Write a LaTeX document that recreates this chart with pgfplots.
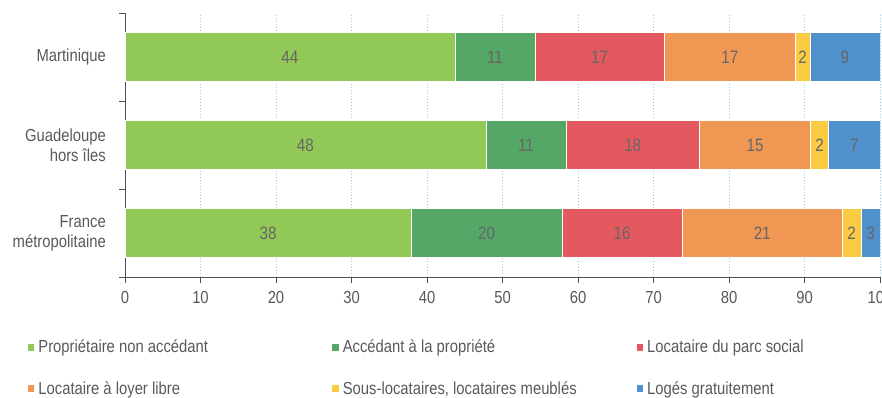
\documentclass[border=0pt]{standalone}
\usepackage{pgfplots}
\pgfplotsset{compat=1.18}
\usepackage{fontspec}
\setmainfont{Liberation Sans}[FakeStretch=0.85]
\definecolor{cA}{RGB}{146,200,86}
\definecolor{cB}{RGB}{84,167,102}
\definecolor{cC}{RGB}{228,89,96}
\definecolor{cD}{RGB}{240,152,83}
\definecolor{cE}{RGB}{249,204,68}
\definecolor{cF}{RGB}{80,145,205}
\definecolor{txt}{RGB}{89,89,89}
\definecolor{num}{RGB}{102,102,102}
\definecolor{gridc}{RGB}{150,205,240}
\definecolor{axc}{RGB}{80,80,80}
\begin{document}
\begin{tikzpicture}
\pgfplotsset{
  base/.style={
    scale only axis, width=755bp, height=264bp,
    at={(125bp,121bp)}, anchor=south west,
    xmin=0, xmax=100, ymin=-0.5, ymax=2.5,
  },
  legsq/.style={legend image code/.code={\fill[##1] (0bp,-3.75bp) rectangle (7.5bp,3.75bp);}},
}
\begin{axis}[base,
  xbar stacked, bar width=49bp,
  axis x line*=bottom, axis y line*=left,
  axis line style={axc, line width=0.8bp},
  every tick/.style={axc, line width=0.8bp},
  tick align=outside,
  xtick={0,10,...,100},
  major tick length=6bp,
  ytick={-0.5,0.5,1.5,2.5},
  yticklabels={},
  extra y ticks={0,1,2},
  extra y tick labels={{France\\métropolitaine},{Guadeloupe\\hors îles},{Martinique}},
  extra y tick style={major tick length=0bp,
    yticklabel style={align=right, inner sep=0pt, xshift=-19bp, text=txt, font=\fontsize{17.5}{20}\selectfont}},
  xticklabel style={inner sep=0pt, yshift=-8bp, text=txt, font=\fontsize{17.5}{20}\selectfont},
  /pgf/number format/assume math mode=true,
  xmajorgrids,
  major x grid style={gridc, line width=0.8bp, dash pattern=on 1.5bp off 1.5bp},
  legend columns=3,
  legend style={draw=none, fill=none, inner sep=0pt, outer sep=0pt,
    at={(axis description cs:-0.1298,-0.238)}, anchor=north west,
    row sep=27bp, font=\fontsize{17.5}{20}\selectfont, text=txt,
    /tikz/every odd column/.append style={column sep=3.5bp},
    nodes={inner sep=0pt}},
  legend cell align=left,
]
\addplot[fill=cA, draw=white, line width=0.4bp, legsq] coordinates {(37.9,0) (47.8,1) (43.7,2)};
\addplot[fill=cB, draw=white, line width=0.4bp, legsq] coordinates {(20.0,0) (10.6,1) (10.6,2)};
\addplot[fill=cC, draw=white, line width=0.4bp, legsq] coordinates {(15.9,0) (17.7,1) (17.1,2)};
\addplot[fill=cD, draw=white, line width=0.4bp, legsq] coordinates {(21.2,0) (14.7,1) (17.4,2)};
\addplot[fill=cE, draw=white, line width=0.4bp, legsq] coordinates {(2.5,0) (2.4,1) (1.9,2)};
\addplot[fill=cF, draw=white, line width=0.4bp, legsq] coordinates {(2.5,0) (6.8,1) (9.3,2)};
\addlegendentry{\makebox[293bp][l]{Propriétaire non accédant}}
\addlegendentry{\makebox[293bp][l]{Accédant à la propriété}}
\addlegendentry{\makebox[293bp][l]{Locataire du parc social}}
\addlegendentry{\makebox[293bp][l]{Locataire à loyer libre}}
\addlegendentry{\makebox[293bp][l]{Sous-locataires, locataires meublés}}
\addlegendentry{\makebox[293bp][l]{Logés gratuitement}}
\end{axis}
\begin{axis}[base, hide axis]
\addplot[draw=none, nodes near coords, point meta=explicit symbolic,
  every node near coord/.append style={anchor=center, text=num, font=\fontsize{18}{20}\selectfont}]
  table[meta=label] {
x y label
21.85 2 44
49.0 2 11
62.85 2 17
80.1 2 17
89.75 2 2
95.35 2 9
23.9 1 48
53.1 1 11
67.25 1 18
83.45 1 15
92.0 1 2
96.6 1 7
18.95 0 38
47.9 0 20
65.85 0 16
84.4 0 21
96.25 0 2
98.75 0 3
};
\end{axis}
\pgfresetboundingbox
\useasboundingbox (0,0) rectangle (882bp,398bp);
\end{tikzpicture}
\end{document}
